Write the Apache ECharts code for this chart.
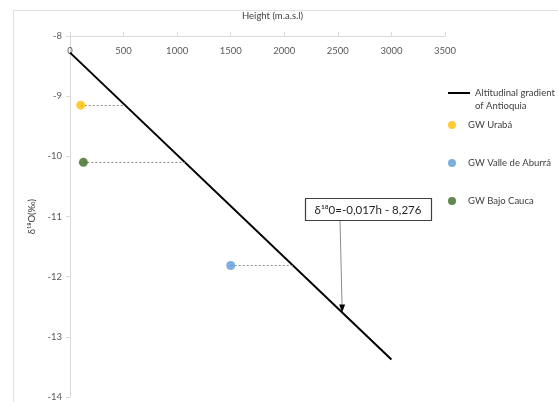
<!DOCTYPE html>
<html>
<head>
<meta charset="utf-8">
<script src="https://cdn.jsdelivr.net/npm/echarts@6/dist/echarts.min.js"></script>
<style>
  html, body { margin: 0; padding: 0; background: #fff; }
  #chart { width: 558px; height: 402px; }
</style>
</head>
<body>
<div id="chart"></div>
<script>
// gradient line endpoints (height, d18O)
const gradientLine = [[0, -8.276], [3000, -13.376]]
const slope = -0.0017
const intercept = -8.276

// groundwater samples
const uraba = [[100, -9.15]]
const valle = [[1500, -11.815]]
const bajoCauca = [[125, -10.1]]

const xTicks = [0, 3500, 500] // min, max, step
const yTicks = [-14, -8, 1]

const font = 'Lato, "Open Sans", sans-serif'
const myChart = echarts.init(document.getElementById('chart'))

// dashed link from a point to the gradient line
const toLine = (p) => [[{ coord: p }, { coord: [(p[1] - intercept) / slope, p[1]] }]]

const dotSeries = (name, data, color) => ({
  name: name,
  type: 'scatter',
  data: data,
  symbolSize: 9,
  itemStyle: { color: color },
  z: 5,
  markLine: {
    silent: true,
    symbol: 'none',
    label: { show: false },
    lineStyle: { color: '#8c8c8c', type: [2, 2], width: 1 },
    data: toLine(data[0])
  }
})

const legendText = { fontFamily: font, fontSize: 9.5, color: '#404040' }

const legendItem = (item, top, fmt) => ({
  data: [item],
  left: 443,
  top: top,
  itemWidth: 22,
  itemHeight: 8,
  textStyle: legendText,
  formatter: fmt,
  selectedMode: false
})

const lineName = 'Altitudinal gradient of Antioquia'

const options = {
  animation: false,
  textStyle: { fontFamily: font },
  grid: { left: 70, top: 36, width: 375, height: 361 },
  legend: [
    legendItem({ name: lineName, icon: 'path://M0,0 L22,0 L22,2 L0,2 Z', itemStyle: { color: '#000' } }, 83, () => 'Altitudinal gradient'),
    legendItem('GW Urabá', 115),
    legendItem('GW Valle de Aburrá', 153),
    legendItem('GW Bajo Cauca', 191)
  ],
  xAxis: {
    type: 'value',
    position: 'top',
    min: xTicks[0],
    max: xTicks[1],
    interval: xTicks[2],
    name: 'Height (m.a.s.l)',
    nameLocation: 'middle',
    nameGap: 15,
    nameTextStyle: { fontSize: 9.5, color: '#404040', padding: [0, 0, 0, 30] },
    axisLine: { lineStyle: { color: '#d9d9d9' } },
    axisTick: { show: true, length: 4, lineStyle: { color: '#d9d9d9' } },
    axisLabel: { inside: true, margin: 10, fontSize: 9.5, color: '#595959', formatter: (v) => String(v) },
    splitLine: { show: false }
  },
  yAxis: {
    type: 'value',
    min: yTicks[0],
    max: yTicks[1],
    interval: yTicks[2],
    name: 'δ¹⁸O(‰)',
    nameLocation: 'middle',
    nameGap: 30,
    nameTextStyle: { fontSize: 9.5, color: '#404040' },
    axisLine: { show: true, lineStyle: { color: '#d9d9d9' } },
    axisTick: { show: true, length: 4, lineStyle: { color: '#d9d9d9' } },
    axisLabel: { margin: 8, fontSize: 9.5, color: '#595959' },
    splitLine: { show: false }
  },
  series: [
    {
      name: lineName,
      type: 'line',
      data: gradientLine,
      symbol: 'none',
      lineStyle: { color: '#000', width: 2 },
      itemStyle: { color: '#000' },
      z: 4
    },
    dotSeries('GW Urabá', uraba, '#ffc000'),
    dotSeries('GW Valle de Aburrá', valle, '#5b9bd5'),
    dotSeries('GW Bajo Cauca', bajoCauca, '#3a6b22')
  ]
}
myChart.setOption(options)

// annotation box + arrow pointing at the gradient line
const hArrow = 2540
const tip = myChart.convertToPixel({ gridIndex: 0 }, [hArrow, slope * hArrow + intercept])
myChart.setOption({
  graphic: [
    { type: 'rect', silent: true, shape: { x: 13.5, y: 10.5, width: 600, height: 500 }, style: { fill: 'none', stroke: '#e0e0e0', lineWidth: 1 } },
    { type: 'text', silent: true, x: 475, y: 106, style: Object.assign({ text: 'of Antioquia', fill: '#404040', verticalAlign: 'middle' }, legendText) },
    { type: 'line', silent: true, shape: { x1: 340, y1: 220, x2: tip[0], y2: tip[1] - 3 }, style: { stroke: '#8c8c8c', lineWidth: 1 } },
    { type: 'polygon', silent: true, shape: { points: [[tip[0] - 3, tip[1] - 8], [tip[0] + 3, tip[1] - 8], [tip[0], tip[1]]] }, style: { fill: '#000' } },
    { type: 'rect', silent: true, shape: { x: 305.5, y: 198.5, width: 126, height: 22 }, style: { fill: '#fff', stroke: '#404040', lineWidth: 1.2 }, z: 10 },
    { type: 'text', silent: true, x: 368, y: 210, style: { text: 'δ¹⁸0=-0,017h - 8,276', align: 'center', verticalAlign: 'middle', fontFamily: font, fontSize: 11.5, fill: '#262626' }, z: 11 }
  ]
})
</script>
</body>
</html>
